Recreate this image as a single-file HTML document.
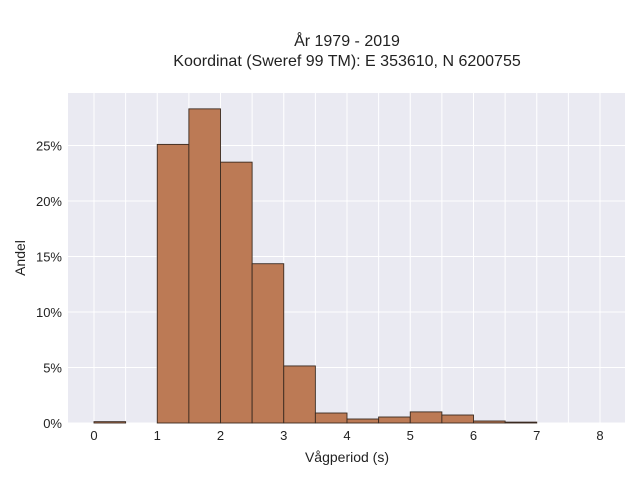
<!DOCTYPE html>
<html><head><meta charset="utf-8"><style>
body{margin:0;background:#fff;}
svg{display:block;font-family:"Liberation Sans",sans-serif;}
</style></head><body>
<svg id="chart" width="640" height="480">
<text x="347" y="46" text-anchor="middle" font-size="16" fill="#222">År 1979 - 2019</text>
<text x="347" y="66" text-anchor="middle" font-size="16" fill="#222">Koordinat (Sweref 99 TM): E 353610, N 6200755</text>
<rect x="68" y="93" width="557" height="330" fill="#eaeaf2"/>
<g id="grid"></g><g id="bars"></g><g id="axes"></g>
<text x="347" y="462" text-anchor="middle" font-size="14" fill="#222">Vågperiod (s)</text>
<text x="25" y="258" text-anchor="middle" font-size="14" fill="#222" transform="rotate(-90 25 258)">Andel</text>
</svg>
<script>
const binStarts=[0,0.5,1,1.5,2,2.5,3,3.5,4,4.5,5,5.5,6,6.5,7];
const values=[0.12,0,25.1,28.3,23.5,14.35,5.14,0.9,0.36,0.54,1.0,0.72,0.18,0.08,0];
const binWidth=0.5;
const xTicks=[0,1,2,3,4,5,6,7,8];
const yTicks=[0,5,10,15,20,25];
const NS="http://www.w3.org/2000/svg";
const xs=v=>94+v*63.25, ys=v=>423-v*11.1;
const grid=document.getElementById('grid'),bars=document.getElementById('bars'),axes=document.getElementById('axes');
function mk(t,a,p){const e=document.createElementNS(NS,t);for(const k in a)e.setAttribute(k,a[k]);p.appendChild(e);return e;}
for(let v=0;v<=8;v+=0.5){const l=mk('line',{x1:xs(v),x2:xs(v),y1:93,y2:423,stroke:'#fff','stroke-width':1},grid);

}
yTicks.forEach(v=>{const l=mk('line',{x1:68,x2:625,y1:ys(v),y2:ys(v),stroke:'#fff','stroke-width':1},grid);


const t=mk('text',{x:62,y:ys(v)+5,'text-anchor':'end','font-size':13,fill:'#222'},axes);t.textContent=v+'%';

});
xTicks.forEach(v=>{const t=mk('text',{x:xs(v),y:440,'text-anchor':'middle','font-size':13,fill:'#222'},axes);t.textContent=v;

});
binStarts.forEach((s,i)=>{const v=values[i];if(v<=0)return;
const r=mk('rect',{x:xs(s),y:ys(v),width:xs(s+binWidth)-xs(s),height:ys(0)-ys(v),fill:'#bc7a55',stroke:'#3a2a20','stroke-width':0.9},bars);

});
</script>
</body></html>
